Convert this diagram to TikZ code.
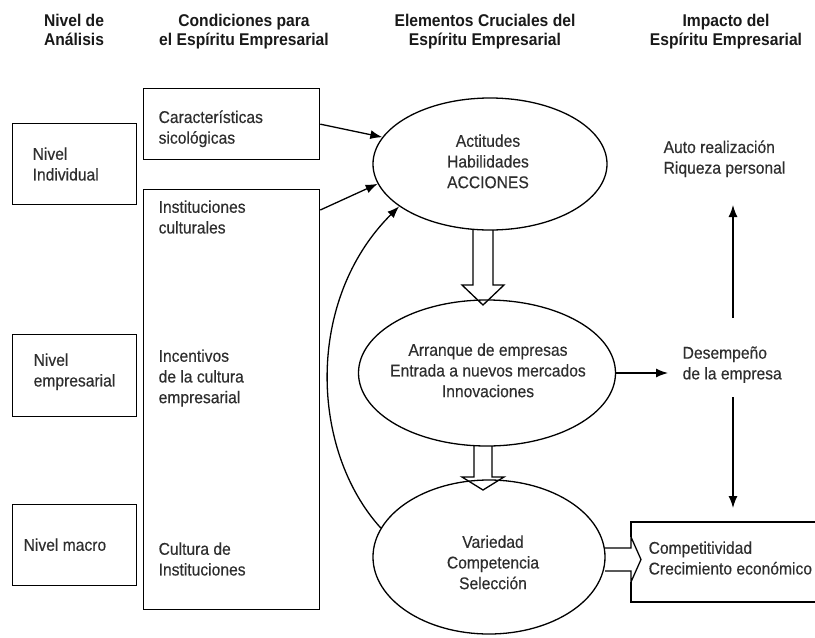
\documentclass[tikz,border=0pt]{standalone}
\usepackage{fontspec}
\setmainfont[FakeStretch=0.92]{Liberation Sans}
\newfontfamily\bodyfont[FakeStretch=0.92,FakeBold=0.35]{Liberation Sans}
\usetikzlibrary{shapes.geometric,arrows.meta,calc}
\begin{document}
\begin{tikzpicture}[x=1pt,y=-1pt,line width=1.3pt,
  every node/.style={inner sep=0pt},
  lbl/.style={align=left,anchor=north west,font=\bodyfont\fontsize{17}{20.7}\selectfont,text=black!82},
  clbl/.style={lbl,align=center,anchor=north},
  hdr/.style={align=center,anchor=north,font=\fontsize{17}{19}\selectfont\bfseries,text=black!90},
  frame/.style={draw,anchor=north west},
  ell/.style={draw,ellipse},
  arr/.style={-{Latex[length=12pt,width=9pt]}},
  hollow/.style={line join=miter}]
\useasboundingbox (0,0) rectangle (815,638);

% headers
\node[hdr] (h1) at (74,13.8) {Nivel de\\Análisis};
\node[hdr] (h2) at (244,13.8) {Condiciones para\\el Espíritu Empresarial};
\node[hdr] (h3) at (485,13.8) {Elementos Cruciales del\\Espíritu Empresarial};
\node[hdr] (h4) at (726,13.8) {Impacto del\\Espíritu Empresarial};

% left boxes
\node[frame,minimum width=124pt,minimum height=81pt] (bInd) at (12,123) {};
\node[frame,minimum width=124pt,minimum height=82pt] (bEmp) at (12,334) {};
\node[frame,minimum width=124pt,minimum height=81pt] (bMac) at (12,504) {};
\node[frame,minimum width=176pt,minimum height=71pt] (bCar) at (143,88) {};
\node[frame,minimum width=176pt,minimum height=420pt] (bInst) at (143,189) {};

\node[lbl] (tInd) at (32,146.8) {Nivel\\Individual};
\node[lbl] (tEmp) at (33,352.8) {Nivel\\empresarial};
\node[lbl] (tMac) at (23,537.8) {Nivel macro};
\node[lbl] (tCar) at (158,109.8) {Características\\sicológicas};
\node[lbl] (tInst) at (158,199.8) {Instituciones\\culturales};
\node[lbl] (tInc) at (158,348.8) {Incentivos\\de la cultura\\empresarial};
\node[lbl] (tCul) at (158,541.8) {Cultura de\\Instituciones};

% ellipses
\node[ell,minimum width=234pt,minimum height=132pt] (e1) at (490,164) {};
\node[ell,minimum width=257pt,minimum height=146pt] (e2) at (487,373) {};
\node[ell,minimum width=232pt,minimum height=154pt] (e3) at (489,557) {};
\node[clbl] (tE1) at (488,133.8) {Actitudes\\Habilidades\\ACCIONES};
\node[clbl] (tE2) at (488,342.8) {Arranque de empresas\\Entrada a nuevos mercados\\Innovaciones};
\node[clbl] (tE3) at (493,534.8) {Variedad\\Competencia\\Selección};

% right side texts
\node[lbl] (tAuto) at (663,139.8) {Auto realización\\Riqueza personal};
\node[lbl] (tDes) at (682,345.8) {Desempeño\\de la empresa};
\node[lbl] (tComp) at (648,540.8) {Competitividad\\Crecimiento económico};

% competitividad box (open on the right)
\draw (816,522) -- (631,522) -- (631,537);
\draw (631,582) -- (631,602) -- (816,602);

% hollow arrows
\coordinate (h1s) at (483,230);
\coordinate (h1t) at (483,305);
\draw[hollow] ($(h1s)+(-10,0)$) -- ($(h1t)+(-10,-20)$) -- ($(h1t)+(-21,-20)$) -- (h1t)
  -- ($(h1t)+(21,-20)$) -- ($(h1t)+(10,-20)$) -- ($(h1s)+(10,0)$);
\coordinate (h2s) at (483,446);
\coordinate (h2t) at (483,490);
\draw[hollow] ($(h2s)+(-9,0)$) -- ($(h2t)+(-9,-13)$) -- ($(h2t)+(-21,-13)$) -- (h2t)
  -- ($(h2t)+(21,-13)$) -- ($(h2t)+(9,-13)$) -- ($(h2s)+(9,0)$);
\coordinate (h3s) at (605,559.5);
\coordinate (h3t) at (641,559.5);
\fill[white] ($(h3s)+(2,-11.5)$) -- ($(h3t)+(-10,-11.5)$) -- ($(h3t)+(-10,-22.5)$) -- (h3t)
  -- ($(h3t)+(-10,22.5)$) -- ($(h3t)+(-10,11.5)$) -- ($(h3s)+(2,11.5)$) -- cycle;
\draw[hollow] ($(h3s)+(0,-11.5)$) -- ($(h3t)+(-10,-11.5)$) -- ($(h3t)+(-10,-22.5)$) -- (h3t)
  -- ($(h3t)+(-10,22.5)$) -- ($(h3t)+(-10,11.5)$) -- ($(h3s)+(0,11.5)$);

% thin arrows
\draw[arr] (bCar.east) -- (e1.166);
\draw[arr] ($(bInst.north east)+(0,21)$) -- (e1.190);
\draw[arr] (e3.165) .. controls (310,450) and (305,300) .. (e1.205);
\coordinate (desIn) at (668,373);
\draw[arr] (e2.east) -- (desIn);
\coordinate (upS) at (733,318);
\coordinate (upE) at (733,205);
\draw[arr] (upS) -- (upE);
\coordinate (dnS) at (733,397);
\coordinate (dnE) at (733,508);
\draw[arr] (dnS) -- (dnE);
\end{tikzpicture}
\end{document}
